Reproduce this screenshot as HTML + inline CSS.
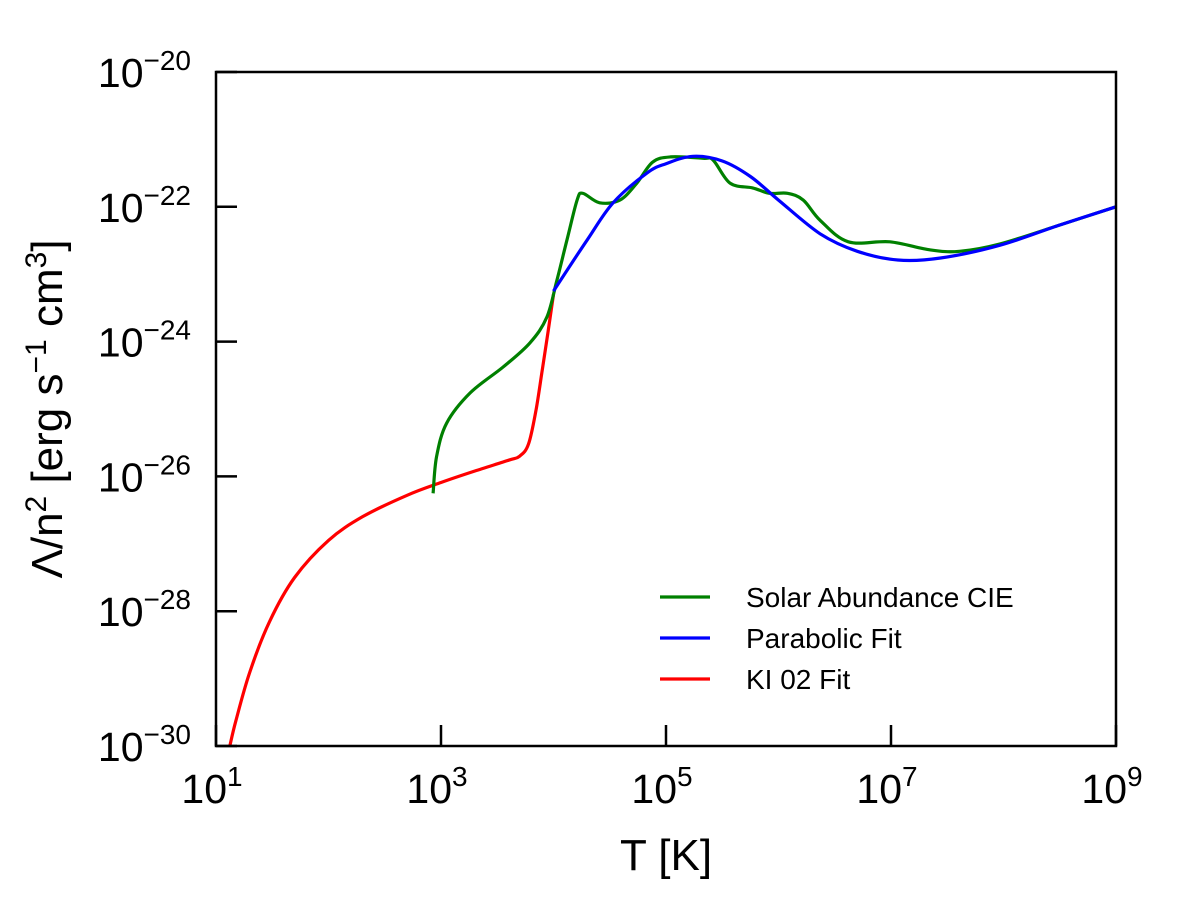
<!DOCTYPE html>
<html><head><meta charset="utf-8"><style>
html,body{margin:0;padding:0;background:#fff;}
svg{display:block;font-family:"Liberation Sans",sans-serif;}
</style></head><body>
<svg id="chart" width="1200" height="900">
<g id="plot"></g>
</svg>
<script>
const xTicks=[1,3,5,7,9];
const yTicks=[-20,-22,-24,-26,-28,-30];
const seriesNames=["Solar Abundance CIE","Parabolic Fit","KI 02 Fit"];
const seriesColors=["#008000","#0000ff","#ff0000"];
const redLogT=[1.12,1.176,1.301,1.477,1.699,2.0,2.301,2.699,3.0,3.301,3.602,3.699,3.778,3.845,3.903,3.954,4.0];
const redLogL=[-30.02,-29.63,-28.90,-28.15,-27.50,-26.95,-26.60,-26.28,-26.09,-25.92,-25.76,-25.70,-25.52,-25.01,-24.39,-23.83,-23.30];
const blueLogT=[4.0,4.30,4.53,4.83,5.0,5.24,5.5,5.75,6.0,6.37,6.7,7.06,7.44,7.97,8.50,9.0];
const blueLogL=[-23.25,-22.49,-21.94,-21.50,-21.36,-21.25,-21.32,-21.55,-21.90,-22.40,-22.66,-22.79,-22.76,-22.57,-22.27,-22.0];
const greenLogT=[2.93,2.96,3.05,3.26,3.55,3.79,3.94,4.03,4.12,4.21,4.26,4.41,4.59,4.74,4.88,5.04,5.33,5.42,5.57,5.77,5.92,6.08,6.22,6.37,6.62,6.99,7.35,7.61,7.97,8.50,9.0];
const greenLogL=[-26.25,-25.71,-25.21,-24.76,-24.38,-24.02,-23.64,-23.09,-22.49,-21.90,-21.80,-21.94,-21.90,-21.65,-21.34,-21.26,-21.28,-21.31,-21.65,-21.72,-21.80,-21.80,-21.90,-22.20,-22.52,-22.52,-22.64,-22.66,-22.55,-22.27,-22.0];

const L=216,R=1116,T=72,B=746;
const sx=v=>L+(v-1)/8*(R-L);
const sy=v=>T+(-20-v)/10*(B-T);
const NS="http://www.w3.org/2000/svg";
const g=document.getElementById('plot');
function mk(tag,attrs,parent){const e=document.createElementNS(NS,tag);for(const k in attrs)e.setAttribute(k,attrs[k]);(parent||g).appendChild(e);return e;}

const clip=mk('clipPath',{id:'cp'});
mk('rect',{x:L,y:T,width:R-L,height:B-T},clip);

function line(xs,ys,color,name){
  const P=xs.map((x,i)=>[sx(x),sy(ys[i])]);
  let d='M'+P[0][0].toFixed(1)+','+P[0][1].toFixed(1);
  for(let i=0;i<P.length-1;i++){
    const p0=P[Math.max(0,i-1)],p1=P[i],p2=P[i+1],p3=P[Math.min(P.length-1,i+2)];
    const c1=[p1[0]+(p2[0]-p0[0])/6,p1[1]+(p2[1]-p0[1])/6];
    const c2=[p2[0]-(p3[0]-p1[0])/6,p2[1]-(p3[1]-p1[1])/6];
    d+='C'+c1.map(v=>v.toFixed(1)).join(',')+' '+c2.map(v=>v.toFixed(1)).join(',')+' '+p2.map(v=>v.toFixed(1)).join(',');
  }
  const p=mk('path',{d:d,fill:'none',stroke:color,'stroke-width':3.2,'stroke-linejoin':'round','clip-path':'url(#cp)'});
  
  
}
line(redLogT,redLogL,seriesColors[2],'ki02-fit-line');
line(greenLogT,greenLogL,seriesColors[0],'solar-abundance-cie-line');
line(blueLogT,blueLogL,seriesColors[1],'parabolic-fit-line');

const frame=mk('rect',{x:L,y:T,width:R-L,height:B-T,fill:'none',stroke:'#000','stroke-width':2.5});



xTicks.forEach(v=>{
  const x=sx(v);
  const t=mk('line',{x1:x,x2:x,y1:B,y2:B-21,stroke:'#000','stroke-width':2.5});
  
  
  const tx=mk('text',{x:x-4,y:803,'font-size':41,'text-anchor':'middle'});
  
  
  tx.innerHTML='10<tspan dy="-17" font-size="28">'+v+'</tspan>';
});
yTicks.forEach(v=>{
  const y=sy(v);
  const t=mk('line',{x1:L,x2:L+21,y1:y,y2:y,stroke:'#000','stroke-width':2.5});
  
  
  const tx=mk('text',{x:191,y:y+15,'font-size':41,'text-anchor':'end'});
  
  
  tx.innerHTML='10<tspan dy="-17" font-size="28">\u2212'+Math.abs(v)+'</tspan>';
});

const xl=mk('text',{x:666,y:870,'font-size':44,'text-anchor':'middle'});


xl.textContent='T [K]';
const yl=mk('text',{x:0,y:0,'font-size':44,'text-anchor':'middle',transform:'translate(62,409) rotate(-90)'});


yl.innerHTML='\u039b/n<tspan dy="-16" font-size="30">2</tspan><tspan dy="16"> [erg s</tspan><tspan dy="-16" font-size="30">\u22121</tspan><tspan dy="16"> cm</tspan><tspan dy="-16" font-size="30">3</tspan><tspan dy="16">]</tspan>';

seriesNames.forEach((n,i)=>{
  const y=597+i*41;
  const lg=mk('g',{});
  
  
  mk('line',{x1:660,x2:710,y1:y,y2:y,stroke:seriesColors[i],'stroke-width':3.2},lg);
  const t=mk('text',{x:746,y:y+10,'font-size':28},lg);
  t.textContent=n;
});
</script>
</body></html>
